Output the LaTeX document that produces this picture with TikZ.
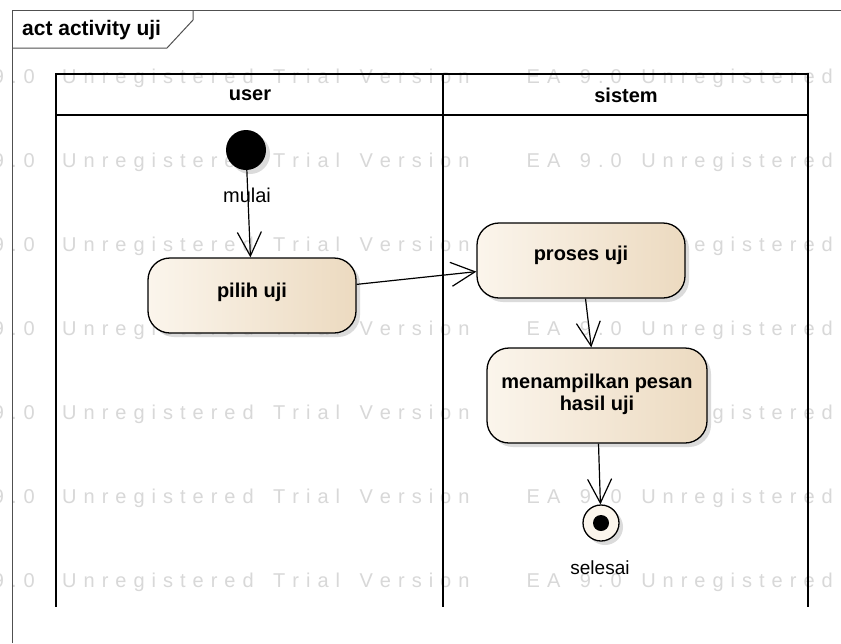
\documentclass[tikz,border=0pt]{standalone}
\usepackage{fontspec}
\setmainfont{Liberation Sans}
\usetikzlibrary{arrows.meta,shadows}
\definecolor{boxL}{HTML}{FBF5EC}
\definecolor{boxR}{HTML}{ECDAC0}
\definecolor{wmC}{HTML}{D8D8D8}
\definecolor{frameC}{HTML}{505050}
\let\wmend\relax
\def\wmsp#1{\ifx#1\wmend\else#1\kern7pt\expandafter\wmsp\fi}
\begin{document}
\begin{tikzpicture}[x=1pt,y=-1pt,
  shade/.style={drop shadow={shadow xshift=4pt,shadow yshift=-4pt,fill=black!28}},
  actbox/.style={draw=black, line width=1.3pt, rounded corners=22pt,
    left color=boxL, right color=boxR, shade, align=center,
    font=\bfseries\fontsize{20}{22}\selectfont},
  flow/.style={draw, line width=1.2pt, -{Straight Barb[length=24pt,width=24pt]}},
  wmark/.style={text=wmC, font=\fontsize{20}{24}\selectfont, inner sep=0pt},
  lane/.style={line width=2pt, line cap=rect},
  lbl/.style={font=\fontsize{20}{24}\selectfont, inner sep=0pt},
  hdr/.style={font=\bfseries\fontsize{20}{24}\selectfont, inner sep=0pt}]
\useasboundingbox (0,0) rectangle (841,643);
\fill[white] (0,0) rectangle (841,643);
% watermark
\foreach \yy [count=\i] in {83,167,251,335,419,503,587}{
  \node[wmark, anchor=base east] (wmA\i) at (42,\yy) {\wmsp 9.0\wmend};
  \node[wmark, anchor=base west] (wmB\i) at (62,\yy) {\wmsp Unregistered~Trial~Version~~~~EA~9.0~Unregistered~Trial\wmend};
}
% frame
\draw[frameC, line width=1pt] (12,643) -- (12,10) -- (841,10);
\draw[frameC, line width=1pt] (12,48) -- (167,48) -- (193,20) -- (193,10);
\node[hdr, font=\bfseries\fontsize{21}{24}\selectfont, anchor=west] (title) at (22,30) {act activity uji};
% swimlanes
\draw[lane] (56,606) -- (56,74) -- (808,74) -- (808,606);
\draw[lane] (443,74) -- (443,606);
\draw[lane] (56,115) -- (808,115);
\node[hdr] (huser) at (250,95) {user};
\node[hdr] (hsistem) at (626,95) {sistem};
% nodes
\node[circle, fill=black, minimum size=40pt, inner sep=0pt, shade] (start) at (246,150) {};
\node[lbl] (mulai) at (247,195) {mulai};
\node[actbox, minimum width=208pt, minimum height=75pt] (pilih) at (252,295.5) {\raisebox{-2pt}[0pt][0pt]{pilih uji}};
\node[actbox, minimum width=208pt, minimum height=75pt] (proses) at (581,260.5) {\raisebox{0pt}[0pt][0pt]{proses uji}};
\node[actbox, minimum width=220pt, minimum height=95pt] (tampil) at (597,395.5) {\raisebox{7.5pt}[0pt][0pt]{\begin{tabular}[t]{@{}c@{}}menampilkan pesan\\hasil uji\end{tabular}}};
\node[circle, draw=black, line width=1.3pt, fill=boxL, minimum size=36pt, inner sep=0pt, shade] (end) at (601,523) {};
\node[circle, fill=black, minimum size=16pt, inner sep=0pt] (enddot) at (end.center) {};
\node[lbl, font=\fontsize{19}{22}\selectfont] (selesai) at (600,568) {selesai};
% flows
\draw[flow] (start) -- (pilih);
\draw[flow] (pilih) -- (proses);
\draw[flow] (proses) -- (tampil);
\draw[flow] (tampil) -- (end);
\end{tikzpicture}
\end{document}
